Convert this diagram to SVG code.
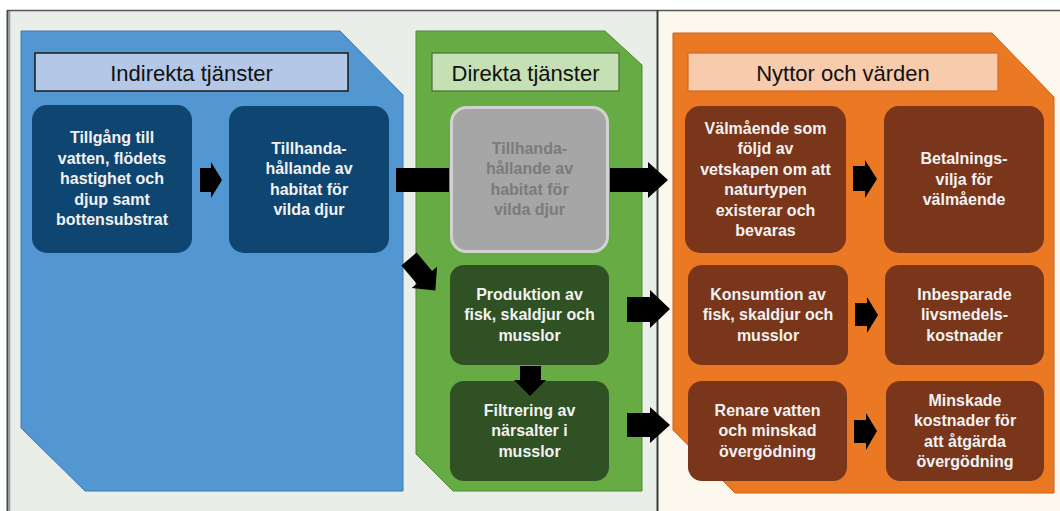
<svg xmlns="http://www.w3.org/2000/svg" width="1060" height="511" viewBox="0 0 1060 511">
<defs>
<style>
.ttl{font-family:"Liberation Sans",Arial,sans-serif;font-size:22px;fill:#111;text-anchor:middle}
.nt{font-family:"Liberation Sans",Arial,sans-serif;font-size:16px;font-weight:bold;fill:#f2f2f2;text-anchor:middle}
.gt{fill:#7b7b7b}
.blue{fill:#0f4571}
.green{fill:#2f5123}
.brown{fill:#7a361a}
.gray{fill:#a6a6a6;stroke:#d2d2d2;stroke-width:3}
.arr{fill:#000;stroke:none}
</style>
</defs>
<rect x="0" y="0" width="1060" height="511" fill="#ffffff"/>
<rect x="8" y="10" width="650" height="501" fill="#e9eee9"/>
<rect x="658" y="10" width="402" height="501" fill="#fcf8ee"/>
<line x1="7" y1="10.5" x2="1060" y2="10.5" stroke="#555" stroke-width="1.5"/>
<line x1="7.5" y1="10" x2="7.5" y2="511" stroke="#4a4a4a" stroke-width="2"/>
<line x1="9.5" y1="11" x2="9.5" y2="511" stroke="#9a9a9a" stroke-width="1.5"/>
<line x1="657.5" y1="10" x2="657.5" y2="511" stroke="#3a3a3a" stroke-width="2"/>

<g id="panel-indirekta">
<polygon points="21,31 340,31 403,95 403,491 85,491 21,428" fill="#5397d2" stroke="#3c78b2" stroke-width="1"/>
<rect x="35" y="53" width="313" height="38" fill="#b4c7e7" stroke="#1a1a1a" stroke-width="1.5"/>
<text class="ttl" x="191.5" y="81">Indirekta tjänster</text>
</g>
<g id="panel-direkta">
<polygon points="416,31 605,31 642,65 642,491 453,491 416,454" fill="#67ab45" stroke="#4e8a33" stroke-width="1"/>
<rect x="432" y="53" width="187" height="38" fill="#c5e0b4" stroke="#4a6e33" stroke-width="1.2"/>
<text class="ttl" x="525.5" y="81">Direkta tjänster</text>
</g>
<g id="panel-nyttor">
<polygon points="673,33 992,33 1054,97 1054,493 735,493 673,430" fill="#eb7823" stroke="#c9621a" stroke-width="1"/>
<rect x="688" y="53" width="310" height="38" fill="#f8cbad" stroke="#d36a22" stroke-width="1.2"/>
<text class="ttl" x="843" y="81">Nyttor och värden</text>
</g>

<g id="n-tillgang">
<rect class="blue" x="32" y="105" width="160" height="148" rx="15"/>
<text class="nt"><tspan x="112" y="143">Tillgång till</tspan><tspan x="112" y="163.5">vatten, flödets</tspan><tspan x="112" y="184">hastighet och</tspan><tspan x="112" y="204.5">djup samt</tspan><tspan x="112" y="225">bottensubstrat</tspan></text>
</g>
<g id="n-habitat-indirekt">
<rect class="blue" x="229" y="106" width="160" height="147" rx="15"/>
<text class="nt"><tspan x="309" y="153.5">Tillhanda-</tspan><tspan x="309" y="174">hållande av</tspan><tspan x="309" y="194.5">habitat för</tspan><tspan x="309" y="215">vilda djur</tspan></text>
</g>
<g id="n-habitat-direkt">
<rect class="gray" x="451.5" y="107.5" width="156" height="144" rx="15"/>
<text class="nt gt"><tspan x="529.5" y="153.5">Tillhanda-</tspan><tspan x="529.5" y="174">hållande av</tspan><tspan x="529.5" y="194.5">habitat för</tspan><tspan x="529.5" y="215">vilda djur</tspan></text>
</g>
<g id="n-produktion">
<rect class="green" x="450" y="265" width="159" height="100" rx="14"/>
<text class="nt"><tspan x="529.5" y="299.5">Produktion av</tspan><tspan x="529.5" y="320">fisk, skaldjur och</tspan><tspan x="529.5" y="340.5">musslor</tspan></text>
</g>
<g id="n-filtrering">
<rect class="green" x="450" y="381" width="159" height="100" rx="14"/>
<text class="nt"><tspan x="529.5" y="415.5">Filtrering av</tspan><tspan x="529.5" y="436">närsalter i</tspan><tspan x="529.5" y="456.5">musslor</tspan></text>
</g>
<g id="n-valmaende">
<rect class="brown" x="685" y="106" width="161" height="147" rx="15"/>
<text class="nt"><tspan x="765.5" y="133.5">Välmående som</tspan><tspan x="765.5" y="154">följd av</tspan><tspan x="765.5" y="174.5">vetskapen om att</tspan><tspan x="765.5" y="195">naturtypen</tspan><tspan x="765.5" y="215.5">existerar och</tspan><tspan x="765.5" y="236">bevaras</tspan></text>
</g>
<g id="n-betalningsvilja">
<rect class="brown" x="884" y="106" width="160" height="147" rx="15"/>
<text class="nt"><tspan x="964" y="164">Betalnings-</tspan><tspan x="964" y="184.5">vilja för</tspan><tspan x="964" y="205">välmående</tspan></text>
</g>
<g id="n-konsumtion">
<rect class="brown" x="688" y="265" width="160" height="100" rx="14"/>
<text class="nt"><tspan x="768" y="299.5">Konsumtion av</tspan><tspan x="768" y="320">fisk, skaldjur och</tspan><tspan x="768" y="340.5">musslor</tspan></text>
</g>
<g id="n-inbesparade">
<rect class="brown" x="885" y="265" width="159" height="100" rx="14"/>
<text class="nt"><tspan x="964.5" y="299.5">Inbesparade</tspan><tspan x="964.5" y="320">livsmedels-</tspan><tspan x="964.5" y="340.5">kostnader</tspan></text>
</g>
<g id="n-renare">
<rect class="brown" x="688" y="381" width="159" height="100" rx="14"/>
<text class="nt"><tspan x="767.5" y="415.5">Renare vatten</tspan><tspan x="767.5" y="436">och minskad</tspan><tspan x="767.5" y="456.5">övergödning</tspan></text>
</g>
<g id="n-minskade">
<rect class="brown" x="886" y="381" width="158" height="100" rx="14"/>
<text class="nt"><tspan x="965" y="405.5">Minskade</tspan><tspan x="965" y="426">kostnader för</tspan><tspan x="965" y="446.5">att åtgärda</tspan><tspan x="965" y="467">övergödning</tspan></text>
</g>

<g id="connectors">
<polygon class="arr" points="200,168 211,168 211,162 222,180 211,198 211,192 200,192"/>
<polygon class="arr" points="396,168 449,168 449,192 396,192"/>
<polygon class="arr" points="610,168 648,168 648,162 668,180 648,198 648,192 610,192"/>
<polygon class="arr" transform="translate(409,259) rotate(50)" points="0,-10 24,-10 24,-16.5 41,0 24,16.5 24,10 0,10"/>
<polygon class="arr" points="520,366 541,366 541,380 546,380 530,396 514,380 520,380"/>
<polygon class="arr" points="627,297 650,297 650,290 670,309 650,328 650,322 627,322"/>
<polygon class="arr" points="627,413 650,413 650,407 670,425 650,443 650,437 627,437"/>
<polygon class="arr" points="853,166 865,166 865,160 877,179 865,198 865,191 853,191"/>
<polygon class="arr" points="855,303 867,303 867,297 878,315 867,333 867,326 855,326"/>
<polygon class="arr" points="854,420 866,420 866,413 877,431 866,450 866,443 854,443"/>
</g>
</svg>
